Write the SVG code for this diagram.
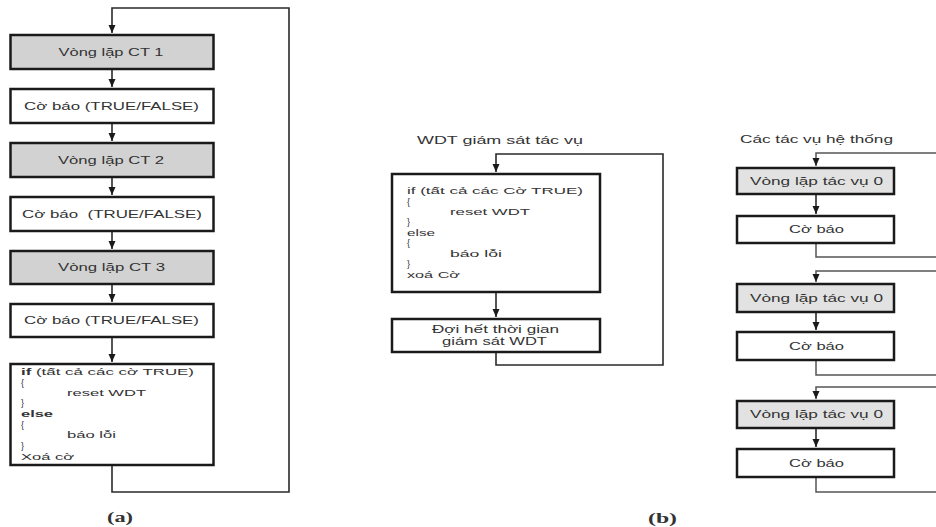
<svg xmlns="http://www.w3.org/2000/svg" width="936" height="527" viewBox="0 0 936 527">
<style>
  .box{fill:#ffffff;stroke:#1a1a1a;stroke-width:2.5}
  .gray{fill:#d2d2d2}
  .lgray{fill:#e2e2e2}
  .t{font-family:"Liberation Sans",Arial,sans-serif;font-size:11px;fill:#333333}
  .c{font-family:"Liberation Sans",Arial,sans-serif;font-size:10.5px;fill:#333333}
  .k{font-family:"Liberation Sans",Arial,sans-serif;font-size:9px;fill:#333333}
  .b{font-weight:bold}
  .mid{text-anchor:middle}
  .lbl{font-family:"Liberation Serif","Times New Roman",serif;font-size:14px;font-weight:bold;fill:#333}
  .con{fill:none;stroke:#2a2a2a;stroke-width:1.6}
  .con2{fill:none;stroke:#555555;stroke-width:1.5}
</style>
<defs>
  <marker id="arr" markerUnits="userSpaceOnUse" markerWidth="9" markerHeight="8" refX="8" refY="3.5" orient="auto">
    <path d="M0,0 L8,3.5 L0,7 z" fill="#1a1a1a"/>
  </marker>
</defs>

<rect width="936" height="527" fill="#ffffff"/>

<g id="connectors">
  <!-- panel a -->
  <path class="con" d="M112,69 V87" marker-end="url(#arr)"/>
  <path class="con" d="M112,123 V141" marker-end="url(#arr)"/>
  <path class="con" d="M112,177 V195" marker-end="url(#arr)"/>
  <path class="con" d="M112,231 V249" marker-end="url(#arr)"/>
  <path class="con" d="M112,284 V302" marker-end="url(#arr)"/>
  <path class="con" d="M112,337 V362" marker-end="url(#arr)"/>
  <path class="con" d="M112,465 V492 H289 V8 H112 V33" marker-end="url(#arr)"/>
  <!-- panel b middle -->
  <path class="con" d="M496,292 V317" marker-end="url(#arr)"/>
  <path class="con" d="M496,352 V365 H663 V154 H496 V172" marker-end="url(#arr)"/>
  <!-- panel b right -->
  <path class="con2" d="M936,153 H816 V166" marker-end="url(#arr)"/>
  <path class="con" d="M816,194 V214" marker-end="url(#arr)"/>
  <path class="con2" d="M816,243 V257 H936"/>
  <path class="con2" d="M936,271 H816 V282" marker-end="url(#arr)"/>
  <path class="con" d="M816,312 V330" marker-end="url(#arr)"/>
  <path class="con2" d="M816,360 V375 H936"/>
  <path class="con2" d="M936,387 H816 V399" marker-end="url(#arr)"/>
  <path class="con" d="M816,428 V447" marker-end="url(#arr)"/>
  <path class="con2" d="M816,477 V492 H936"/>
</g>

<!-- Panel (a) -->
<g id="a1">
  <rect class="box gray" x="10.5" y="35" width="203" height="34"/>
  <text class="t mid" x="111" y="56" textLength="105" lengthAdjust="spacingAndGlyphs">Vòng lặp CT 1</text>
</g>
<g id="a2">
  <rect class="box" x="10.5" y="89" width="203" height="34"/>
  <text class="t mid" x="111.5" y="110" textLength="175" lengthAdjust="spacingAndGlyphs">Cờ báo (TRUE/FALSE)</text>
</g>
<g id="a3">
  <rect class="box gray" x="10.5" y="143" width="203" height="34"/>
  <text class="t mid" x="111" y="164" textLength="106" lengthAdjust="spacingAndGlyphs">Vòng lặp CT 2</text>
</g>
<g id="a4">
  <rect class="box" x="10.5" y="197" width="203" height="34"/>
  <text class="t mid" x="112" y="218" textLength="180" lengthAdjust="spacingAndGlyphs" xml:space="preserve">Cờ báo  (TRUE/FALSE)</text>
</g>
<g id="a5">
  <rect class="box gray" x="10.5" y="251" width="203" height="33"/>
  <text class="t mid" x="111.5" y="271" textLength="107" lengthAdjust="spacingAndGlyphs">Vòng lặp CT 3</text>
</g>
<g id="a6">
  <rect class="box" x="10.5" y="304" width="203" height="33"/>
  <text class="t mid" x="111.5" y="324" textLength="175" lengthAdjust="spacingAndGlyphs">Cờ báo (TRUE/FALSE)</text>
</g>
<g id="a7">
  <rect class="box" x="10.5" y="364" width="203" height="101"/>
  <text class="k" x="21" y="375" textLength="173" lengthAdjust="spacingAndGlyphs"><tspan class="b">if</tspan> (tất cả các cờ TRUE)</text>
  <text class="k" x="21" y="386">{</text>
  <text class="k" x="67" y="396" textLength="79" lengthAdjust="spacingAndGlyphs">reset WDT</text>
  <text class="k" x="21" y="406">}</text>
  <text class="k b" x="21" y="417" textLength="32" lengthAdjust="spacingAndGlyphs">else</text>
  <text class="k" x="21" y="428">{</text>
  <text class="k" x="67" y="438" textLength="49" lengthAdjust="spacingAndGlyphs">báo lỗi</text>
  <text class="k" x="21" y="449">}</text>
  <text class="k" x="21" y="460" textLength="53" lengthAdjust="spacingAndGlyphs">Xoá cờ</text>
</g>
<text class="lbl" x="107" y="522" textLength="26" lengthAdjust="spacingAndGlyphs">(a)</text>

<!-- Panel (b) middle -->
<text class="t" x="417" y="144" textLength="166" lengthAdjust="spacingAndGlyphs">WDT giám sát tác vụ</text>
<g id="b1">
  <rect class="box" x="392" y="174" width="208" height="118"/>
  <text class="k" x="407" y="194" textLength="176" lengthAdjust="spacingAndGlyphs">if (tất cả các Cờ TRUE)</text>
  <text class="k" x="407" y="205">{</text>
  <text class="k" x="450" y="215" textLength="80" lengthAdjust="spacingAndGlyphs">reset WDT</text>
  <text class="k" x="407" y="225">}</text>
  <text class="k" x="407" y="236" textLength="28" lengthAdjust="spacingAndGlyphs">else</text>
  <text class="k" x="407" y="246">{</text>
  <text class="k" x="450" y="257" textLength="52" lengthAdjust="spacingAndGlyphs">báo lỗi</text>
  <text class="k" x="407" y="267">}</text>
  <text class="k" x="407" y="278" textLength="53" lengthAdjust="spacingAndGlyphs">xoá Cờ</text>
</g>
<g id="b2">
  <rect class="box" x="392" y="319" width="208" height="33"/>
  <text class="c mid" x="495.5" y="333" textLength="127" lengthAdjust="spacingAndGlyphs">Đợi hết thời gian</text>
  <text class="c mid" x="494.5" y="345" textLength="105" lengthAdjust="spacingAndGlyphs">giám sát WDT</text>
</g>

<!-- Panel (b) right -->
<text class="t" x="740" y="143" textLength="153" lengthAdjust="spacingAndGlyphs">Các tác vụ hệ thống</text>
<g id="c1">
  <rect class="box lgray" x="737" y="168" width="157" height="26"/>
  <text class="c mid" x="816.5" y="185" textLength="133" lengthAdjust="spacingAndGlyphs">Vòng lặp tác vụ 0</text>
</g>
<g id="c2">
  <rect class="box" x="737" y="216" width="157" height="27"/>
  <text class="c mid" x="816.5" y="233" textLength="55" lengthAdjust="spacingAndGlyphs">Cờ báo</text>
</g>
<g id="c3">
  <rect class="box lgray" x="737" y="284" width="157" height="28"/>
  <text class="c mid" x="816.5" y="302" textLength="133" lengthAdjust="spacingAndGlyphs">Vòng lặp tác vụ 0</text>
</g>
<g id="c4">
  <rect class="box" x="737" y="332" width="157" height="28"/>
  <text class="c mid" x="816.5" y="350" textLength="55" lengthAdjust="spacingAndGlyphs">Cờ báo</text>
</g>
<g id="c5">
  <rect class="box lgray" x="737" y="401" width="157" height="27"/>
  <text class="c mid" x="816.5" y="418" textLength="133" lengthAdjust="spacingAndGlyphs">Vòng lặp tác vụ 0</text>
</g>
<g id="c6">
  <rect class="box" x="737" y="449" width="157" height="28"/>
  <text class="c mid" x="816.5" y="467" textLength="55" lengthAdjust="spacingAndGlyphs">Cờ báo</text>
</g>
<text class="lbl" x="648" y="523" textLength="29" lengthAdjust="spacingAndGlyphs">(b)</text>
</svg>
